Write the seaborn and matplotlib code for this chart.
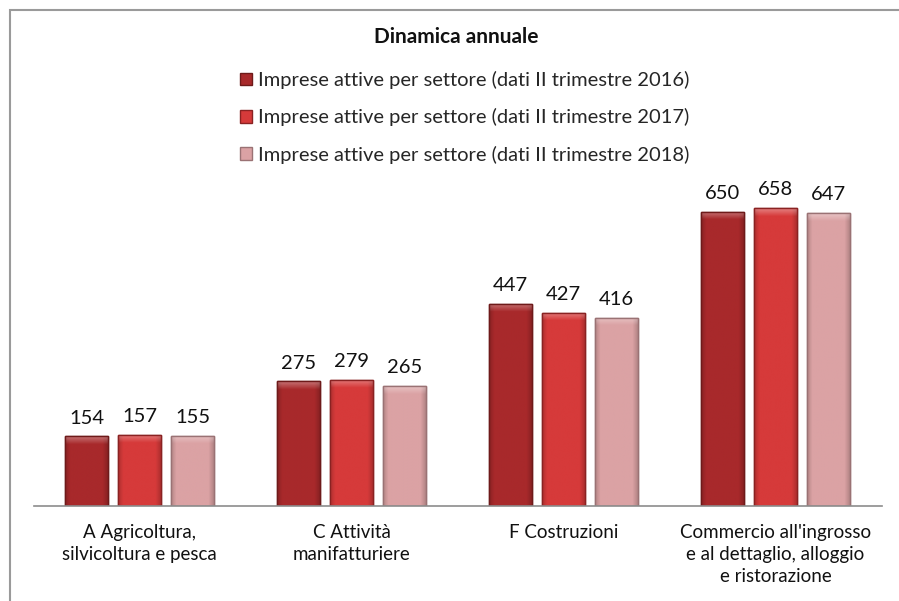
import matplotlib
matplotlib.use("Agg")
import matplotlib.pyplot as plt
import matplotlib.patches as mpatches
import matplotlib.colors as mcolors
import numpy as np
import seaborn as sns
import pandas as pd

sectors = [
    "A Agricoltura,\nsilvicoltura e pesca",
    "C Attività\nmanifatturiere",
    "F Costruzioni",
    "Commercio all'ingrosso\ne al dettaglio, alloggio\ne ristorazione",
]
series = [
    "Imprese attive per settore (dati II trimestre 2016)",
    "Imprese attive per settore (dati II trimestre 2017)",
    "Imprese attive per settore (dati II trimestre 2018)",
]
values_2016 = [154, 275, 447, 650]
values_2017 = [157, 279, 427, 658]
values_2018 = [155, 265, 416, 647]
colors = ["#a8292b", "#d63a3a", "#dba2a4"]
edges = ["#6e1a1a", "#8a2222", "#9a7274"]

df = pd.DataFrame({
    "settore": sectors * 3,
    "serie": [series[0]] * 4 + [series[1]] * 4 + [series[2]] * 4,
    "imprese": values_2016 + values_2017 + values_2018,
})

sns.set_theme(style="white")
plt.rcParams["font.family"] = ["Lato", "DejaVu Sans"]

W, H = 899, 601
fig = plt.figure(figsize=(W / 100, H / 100), dpi=100)
fig.patch.set_facecolor("white")
ax = fig.add_axes([33.5 / W, (H - 506) / H, 848 / W, (506 - 170) / H])

sns.barplot(data=df, x="settore", y="imprese", hue="serie",
            palette=colors, width=0.75, gap=0.19, ax=ax, legend=False,
            saturation=1)


def bevel(bar, base, edge):
    """Shade a bar with darker sides and a light top rim, then outline it."""
    x, w, h = bar.get_x(), bar.get_width(), bar.get_height()
    rgb = np.array(mcolors.to_rgb(base))
    nx, ny = 60, 200
    u = np.linspace(0, 1, nx)
    side = 1 - 0.18 * np.clip(1 - np.minimum(u, 1 - u) / 0.12, 0, 1)
    img = np.ones((ny, nx, 3)) * rgb
    img *= side[None, :, None]
    rim_px = 8.0
    px_per_unit = 336 / 742
    rim_rows = int(round(ny * rim_px / max(h * px_per_unit, 1)))
    for r in range(min(rim_rows, ny)):
        t = 1 - r / max(rim_rows, 1)
        img[r] = img[r] + (1 - img[r]) * 0.35 * t
    img = np.clip(img, 0, 1)
    z = bar.get_zorder()
    im = ax.imshow(img, extent=(x, x + w, 0, h), aspect="auto",
                   origin="upper", zorder=z + 0.1, interpolation="bilinear")
    im.set_clip_path(bar)
    ax.add_patch(mpatches.Rectangle((x, 0), w, h, fill=False,
                                    edgecolor=edge, linewidth=1.0,
                                    zorder=z + 0.2))


for cont, col, ec in zip(ax.containers, colors, edges):
    for bar in cont:
        bar.set_edgecolor(ec)
        bar.set_linewidth(1.0)
        bevel(bar, col, ec)
    ax.bar_label(cont, fmt="%d", padding=7, fontsize=14.5, color="#111111")

ax.set_ylim(0, 742)
ax.set_xlim(-0.5, 3.5)
ax.set_xlabel("")
ax.set_ylabel("")
ax.set_yticks([])
ax.tick_params(axis="x", length=0, pad=13, labelsize=13.5, colors="#111111")
for lab in ax.get_xticklabels():
    lab.set_linespacing(1.35)
for s in ["top", "right", "left"]:
    ax.spines[s].set_visible(False)
ax.spines["bottom"].set_color("#8c8c8c")
ax.spines["bottom"].set_linewidth(1.2)
ax.spines["bottom"].set_zorder(5)
ax.set_facecolor("none")

fig.text(0.508, 1 - 37 / H, "Dinamica annuale", ha="center", va="center",
         fontsize=15, fontweight="bold", color="#111111")

handles = [mpatches.Patch(facecolor=c, edgecolor=e) for c, e in zip(colors, edges)]
fig.legend(handles, series, loc="upper left",
           bbox_to_anchor=(222 / W, 1 - 53 / H), frameon=False,
           fontsize=14.5, handlelength=0.6, handleheight=0.6,
           handletextpad=0.3, labelspacing=0.95)

# outer frame line along the top and left edges
fig.add_artist(mpatches.Rectangle((10 / W, -0.1), 1.2, 1 - 10 / H + 0.1,
                                  transform=fig.transFigure, fill=False,
                                  edgecolor="#9a9a9a", linewidth=1.5))

fig.savefig("out.png", dpi=100)
